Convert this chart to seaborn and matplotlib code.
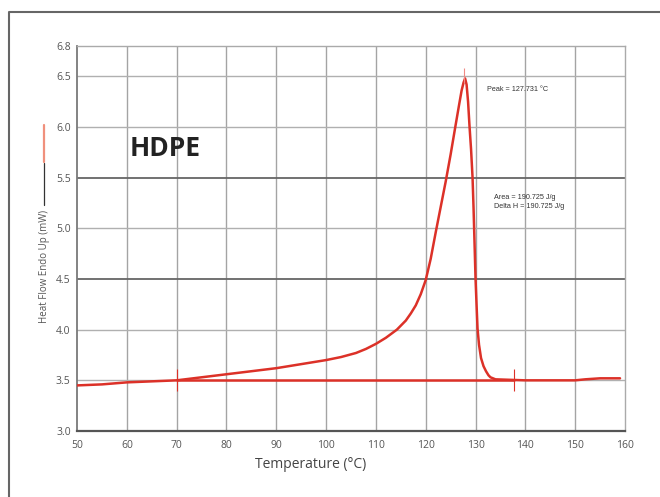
import matplotlib
matplotlib.use("Agg")
import matplotlib.pyplot as plt
from matplotlib.lines import Line2D
import seaborn as sns
import pandas as pd

# DSC melting scan of HDPE
temperature = [50, 55, 60, 65, 70, 75, 80, 85, 90, 95, 100, 103, 106, 108, 110,
               112, 114.2, 116, 117, 118, 119, 120, 121, 122, 123, 124, 125, 126,
               126.7, 127.2, 127.6, 127.9, 128.2, 128.5, 128.8, 129.1, 129.4, 129.6,
               129.8, 130.0, 130.2, 130.4, 130.7, 131.1, 131.6, 132.1, 132.6, 133,
               134, 140, 150, 152, 155, 159]
heat_flow = [3.45, 3.46, 3.48, 3.49, 3.50, 3.53, 3.56, 3.59, 3.62, 3.66, 3.70, 3.73,
             3.77, 3.81, 3.86, 3.92, 4.00, 4.09, 4.16, 4.24, 4.35, 4.49, 4.70, 4.96,
             5.21, 5.46, 5.73, 6.02, 6.22, 6.36, 6.44, 6.48, 6.42, 6.25, 6.00, 5.78,
             5.50, 5.20, 4.85, 4.50, 4.25, 4.01, 3.85, 3.72, 3.64, 3.59, 3.55, 3.53,
             3.51, 3.50, 3.50, 3.51, 3.52, 3.52]

# integration baseline and its limits
baseline_t = [70, 137.7]
baseline_hf = [3.50, 3.50]
peak_t = 127.731
peak_hf = 6.48

x_ticks = [50, 60, 70, 80, 90, 100, 110, 120, 130, 140, 150, 160]
y_ticks = [3.0, 3.5, 4.0, 4.5, 5.0, 5.5, 6.0, 6.5, 6.8]
y_tick_labels = ["3.0", "3.5", "4.0", "4.5", "5.0", "5.5", "6.0", "6.5", "6.8"]

peak_text = "Peak = 127.731 °C"
area_text = "Area = 190.725 J/g\nDelta H = 190.725 J/g"

sns.set_style("white")
plt.rcParams["font.family"] = ["Open Sans", "DejaVu Sans"]

W, H = 660, 497
fig = plt.figure(figsize=(6.6, 4.97), dpi=100)
ax = fig.add_axes([77 / W, 1 - 431 / H, (625 - 77) / W, (431 - 46) / H])

red = "#dc3128"
df = pd.DataFrame({"t": temperature, "hf": heat_flow})
sns.lineplot(data=df, x="t", y="hf", ax=ax, color=red, lw=1.8, zorder=5)
sns.lineplot(x=baseline_t, y=baseline_hf, ax=ax, color=red, lw=1.8, zorder=5)
ax.vlines(baseline_t, [v - 0.11 for v in baseline_hf], [v + 0.11 for v in baseline_hf],
          color=red, lw=0.8, zorder=6)
ax.vlines([peak_t], [peak_hf - 0.05], [peak_hf + 0.10], color="#f08a84", lw=0.8, zorder=6)

ax.set_xlim(x_ticks[0], x_ticks[-1])
ax.set_ylim(y_ticks[0], y_ticks[-1])
ax.set_xticks(x_ticks)
ax.set_yticks(y_ticks)
ax.set_yticklabels(y_tick_labels)
ax.set_xlabel("")
ax.set_ylabel("")

# grid: vertical lines plus horizontals, with 4.5 and 5.5 drawn darker
for xv in x_ticks[1:-1]:
    ax.axvline(xv, color="#a4a4a4", lw=1.0, zorder=1)
for yv in [3.5, 4.0, 5.0, 6.0, 6.5]:
    ax.axhline(yv, color="#b0b0b0", lw=1.0, zorder=1)
for yv in [4.5, 5.5]:
    ax.axhline(yv, color="#666666", lw=1.3, zorder=1)

for side, col, lw in [("bottom", "#555555", 1.6), ("left", "#7a7a7a", 1.3),
                      ("top", "#aaaaaa", 1.0), ("right", "#aaaaaa", 1.0)]:
    ax.spines[side].set_visible(True)
    ax.spines[side].set_color(col)
    ax.spines[side].set_linewidth(lw)

ax.tick_params(axis="both", which="major", length=2.5, width=0.8, color="#666666",
               labelsize=7.5, labelcolor="#555555", pad=2, direction="out")
ax.tick_params(axis="x", pad=4)

ax.text(60.5, 5.79, "HDPE", fontsize=19, fontweight="bold", color="#222222",
        va="center", ha="left", zorder=7)
ax.text(132.3, 6.37, peak_text, fontsize=5.2, color="#333333", va="center",
        ha="left", family=["Liberation Sans", "DejaVu Sans"], zorder=7)
ax.text(133.8, 5.26, area_text, fontsize=5.2, color="#333333", va="center",
        ha="left", linespacing=1.5, family=["Liberation Sans", "DejaVu Sans"], zorder=7)

fig.text(311 / W, 1 - 465 / H, "Temperature (°C)", fontsize=10, color="#444444",
         ha="center", va="center")
fig.text(44 / W, 1 - 266 / H, "Heat Flow Endo Up (mW)", fontsize=7, color="#555555",
         rotation=90, ha="center", va="center")
fig.add_artist(Line2D([44 / W, 44 / W], [1 - 205 / H, 1 - 163 / H],
                      color="#333333", lw=0.9, transform=fig.transFigure))
fig.add_artist(Line2D([44 / W, 44 / W], [1 - 162 / H, 1 - 125 / H],
                      color="#f0907c", lw=1.6, transform=fig.transFigure))

# outer frame of the panel
fig.add_artist(Line2D([9 / W, 9 / W, 1.0], [0.0, 1 - 12 / H, 1 - 12 / H],
                      color="#666666", lw=1.5, transform=fig.transFigure))

fig.savefig("out.png", dpi=100, facecolor="white")
